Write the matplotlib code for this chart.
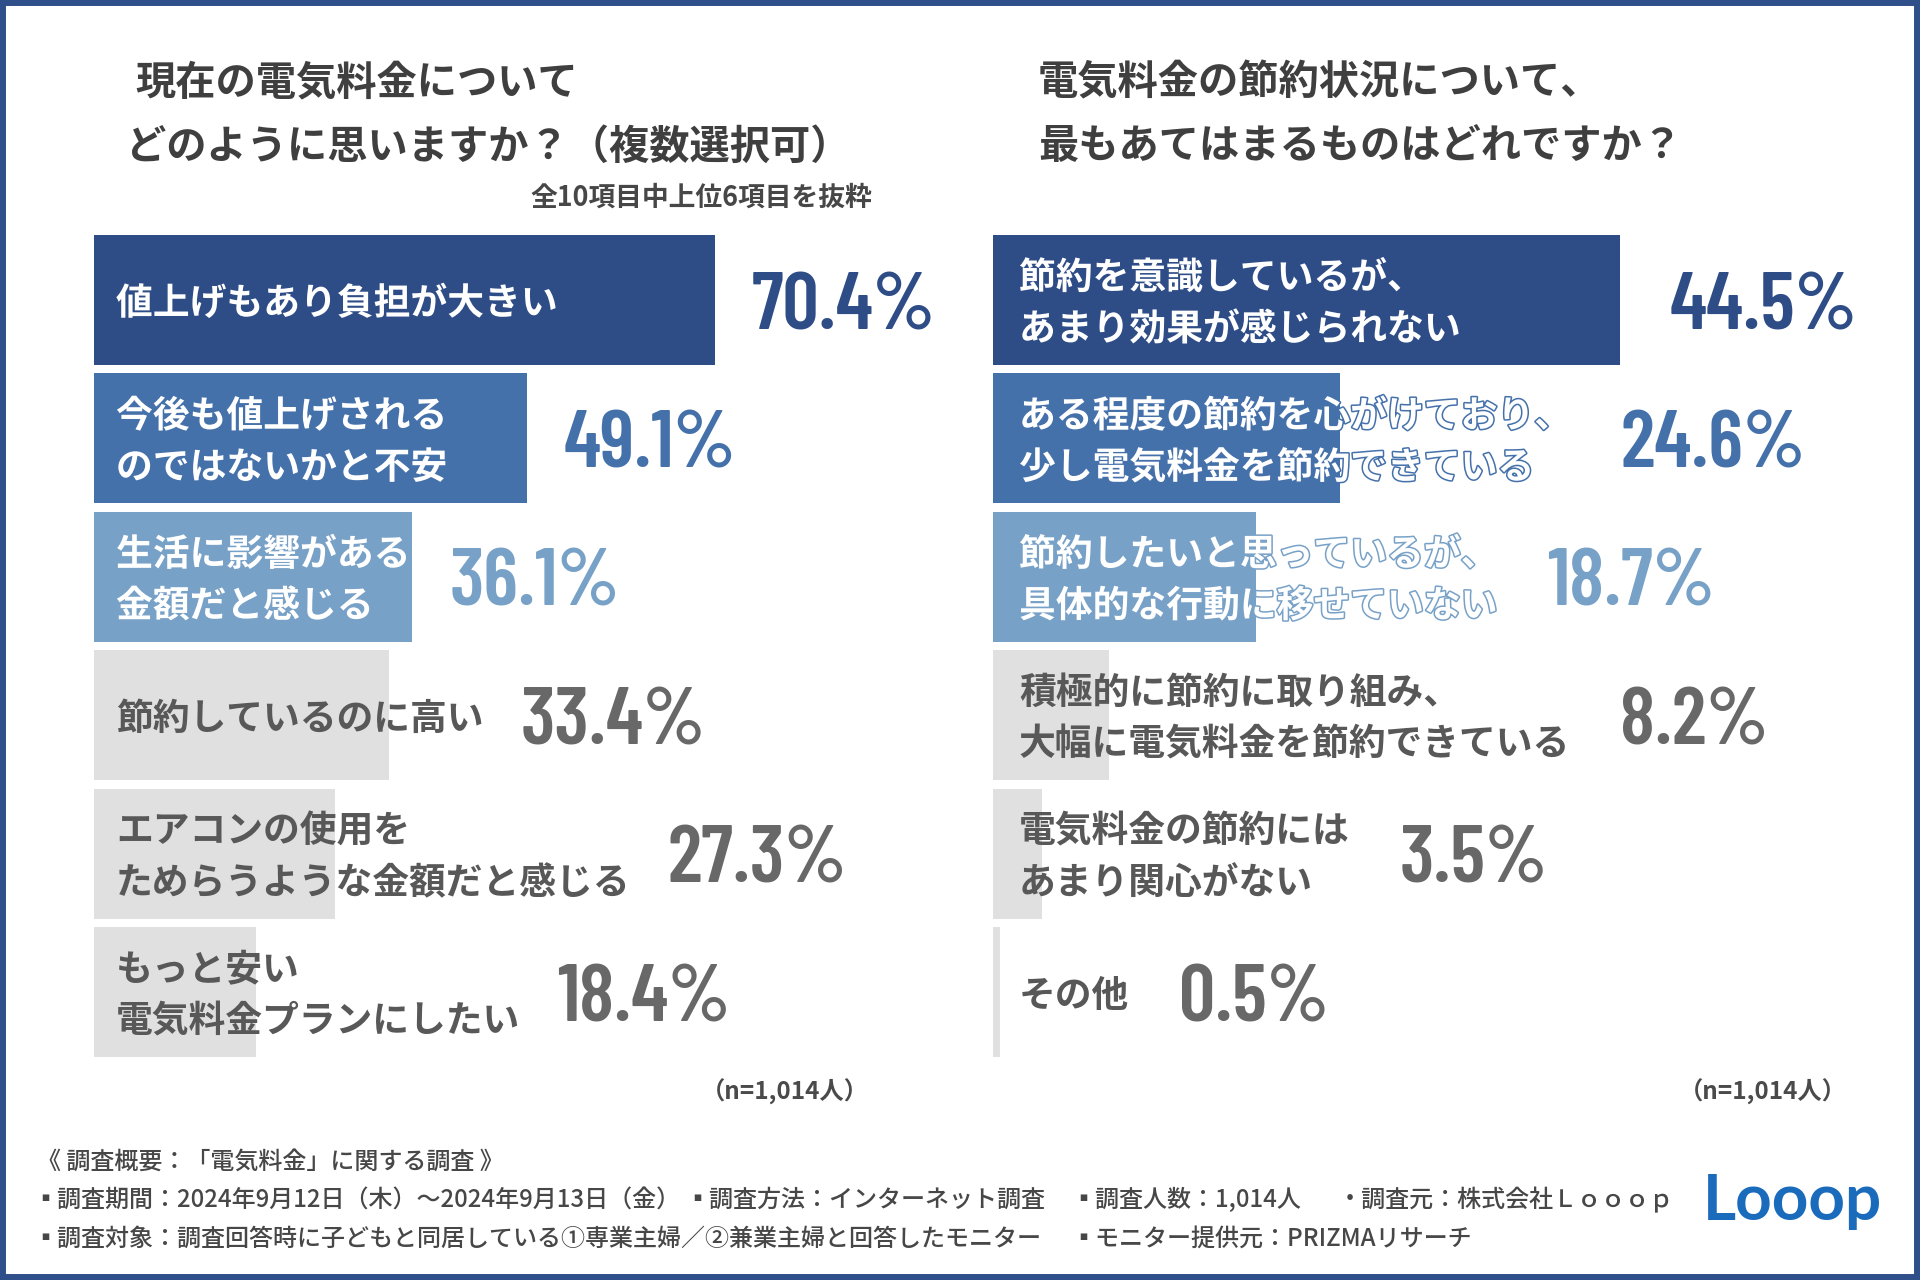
import matplotlib
matplotlib.use("Agg")
import matplotlib.pyplot as plt
import matplotlib.patheffects as pe
from matplotlib.patches import Rectangle

# ---------------- data ----------------
left_title = ["現在の電気料金について", "どのように思いますか？（複数選択可）"]
left_note = "全10項目中上位6項目を抜粋"
left_labels = [
    "値上げもあり負担が大きい",
    "今後も値上げされる\nのではないかと不安",
    "生活に影響がある\n金額だと感じる",
    "節約しているのに高い",
    "エアコンの使用を\nためらうような金額だと感じる",
    "もっと安い\n電気料金プランにしたい",
]
left_values = [70.4, 49.1, 36.1, 33.4, 27.3, 18.4]

right_title = ["電気料金の節約状況について、", "最もあてはまるものはどれですか？"]
right_labels = [
    "節約を意識しているが、\nあまり効果が感じられない",
    "ある程度の節約を心がけており、\n少し電気料金を節約できている",
    "節約したいと思っているが、\n具体的な行動に移せていない",
    "積極的に節約に取り組み、\n大幅に電気料金を節約できている",
    "電気料金の節約には\nあまり関心がない",
    "その他",
]
right_values = [44.5, 24.6, 18.7, 8.2, 3.5, 0.5]

n_label = "（n=1,014人）"
footer_head = "《 調査概要：「電気料金」に関する調査 》"
footer_row1 = ["▪調査期間：2024年9月12日（木）～2024年9月13日（金）",
               "▪調査方法：インターネット調査",
               "▪調査人数：1,014人",
               "・調査元：株式会社Ｌｏｏｏｐ"]
footer_row2 = ["▪調査対象：調査回答時に子どもと同居している①専業主婦／②兼業主婦と回答したモニター",
               "▪モニター提供元：PRIZMAリサーチ"]
logo_text = "Looop"

# ---------------- style ----------------
W, H = 1920, 1280
JP = ["Noto Sans CJK JP", "DejaVu Sans"]
NUM = ["Barlow Condensed", "Roboto Condensed", "IBM Plex Sans Condensed", "Noto Sans CJK JP"]
NAVY = "#2e4d87"
MID = "#4571ab"
LIGHT = "#78a1c7"
GRAY_BAR = "#e0e0e0"
GRAY_TXT = "#585858"
GRAY_VAL = "#686868"
TITLE_C = "#3f3f3f"
BORDER = "#2e4f89"
bar_colors = [NAVY, MID, LIGHT, GRAY_BAR, GRAY_BAR, GRAY_BAR]
val_colors = [NAVY, MID, LIGHT, GRAY_VAL, GRAY_VAL, GRAY_VAL]
lab_colors = ["white", "white", "white", GRAY_TXT, GRAY_TXT, GRAY_TXT]

fig = plt.figure(figsize=(19.2, 12.8), dpi=100)
fig.patch.set_facecolor("white")


def ftext(x, y, s, **kw):
    kw.setdefault("family", JP)
    return fig.text(x / W, 1 - y / H, s, **kw)


def px_axes(left, top, right, bottom):
    ax = fig.add_axes([left / W, 1 - bottom / H, (right - left) / W, (bottom - top) / H])
    ax.set_axis_off()
    return ax


PITCH = 138.4
TOP_C = 300.0
ax_top = TOP_C - PITCH / 2
ax_bot = TOP_C + 5 * PITCH + PITCH / 2
bar_h = 130 / PITCH
line_dy = 0.5 * 51.4 / PITCH


def panel(left_px, px_per_pct, labels, values, label_pad):
    right_px = left_px + px_per_pct * 100
    ax = px_axes(left_px, ax_top, right_px, ax_bot)
    ax.set_xlim(0, 100)
    ax.set_ylim(5.5, -0.5)
    ys = list(range(len(values)))
    ax.barh(ys, values, height=bar_h, color=bar_colors, edgecolor="none")
    label_artists = []
    for i, (lab, v) in enumerate(zip(labels, values)):
        lines = lab.split("\n")
        n = len(lines)
        arts = []
        for k, ln in enumerate(lines):
            dy = (k - (n - 1) / 2) * 2 * line_dy
            kw = {}
            if lab_colors[i] == "white":
                kw["path_effects"] = [pe.withStroke(linewidth=2.2, foreground=bar_colors[i])]
            t = ax.annotate(ln, xy=(0, i + dy), xytext=(label_pad, -4),
                            textcoords="offset pixels", ha="left", va="center",
                            fontsize=26.5, fontweight="bold", color=lab_colors[i],
                            family=JP, annotation_clip=False, **kw)
            arts.append(t)
        label_artists.append(arts)
    return ax, label_artists


axL, labsL = panel(94, 8.82, left_labels, left_values, 22)
axR, labsR = panel(993, 14.09, right_labels, right_values, 26)

fig.canvas.draw()
renderer = fig.canvas.get_renderer()


def add_values(ax, labs, values, gap):
    for i, v in enumerate(values):
        bar_end = ax.transData.transform((v, i))[0]
        lab_end = max(a.get_window_extent(renderer).x1 for a in labs[i])
        xpix = max(bar_end, lab_end) + gap
        xdata = ax.transData.inverted().transform((xpix, 0))[0]
        ax.annotate(f"{v:.1f}%", xy=(xdata, i), xytext=(0, -29),
                    textcoords="offset pixels", ha="left", va="baseline",
                    fontsize=58, fontweight="semibold", color=val_colors[i],
                    family=NUM, annotation_clip=False)


add_values(axL, labsL, left_values, 37)
add_values(axR, labsR, right_values, 50)

# titles
ftext(135, 83, left_title[0], fontsize=29, fontweight="bold", color=TITLE_C, va="center")
ftext(126, 147, left_title[1], fontsize=29, fontweight="bold", color=TITLE_C, va="center")
ftext(872, 198, left_note, fontsize=19.3, fontweight="bold", color="#474747", va="center", ha="right")
ftext(1038, 83, right_title[0], fontsize=29, fontweight="bold", color=TITLE_C, va="center")
ftext(1038, 147, right_title[1], fontsize=29, fontweight="bold", color=TITLE_C, va="center")

# n labels
ftext(785, 1092, n_label, fontsize=17.5, fontweight="bold", color="#4a4a4a", va="center", ha="center")
ftext(1763, 1092, n_label, fontsize=17.5, fontweight="bold", color="#4a4a4a", va="center", ha="center")

# footer
FC = "#474747"
ftext(37, 1162, footer_head, fontsize=17.3, fontweight="medium", color=FC, va="center")
for x, s in zip([33, 685, 1071, 1338], footer_row1):
    ftext(x, 1200, s, fontsize=17.3, fontweight="medium", color=FC, va="center")
for x, s in zip([33, 1071], footer_row2):
    ftext(x, 1239, s, fontsize=17.3, fontweight="medium", color=FC, va="center")

# logo
fig.text(1792 / W, 1 - 1220 / H, logo_text, family=["Lato", "DejaVu Sans"], fontweight="bold",
         fontsize=46, color="#1b6bbd", ha="center", va="baseline")

# border
fig.patches.append(Rectangle((0, 0), 1, 1, transform=fig.transFigure, fill=False,
                             edgecolor=BORDER, linewidth=8.6, zorder=10))
fig.patches.append(Rectangle((0, 0), 1, 4 / H, transform=fig.transFigure, fill=True,
                             facecolor=BORDER, edgecolor="none", zorder=10))

fig.savefig("out.png", dpi=100, facecolor="white")
